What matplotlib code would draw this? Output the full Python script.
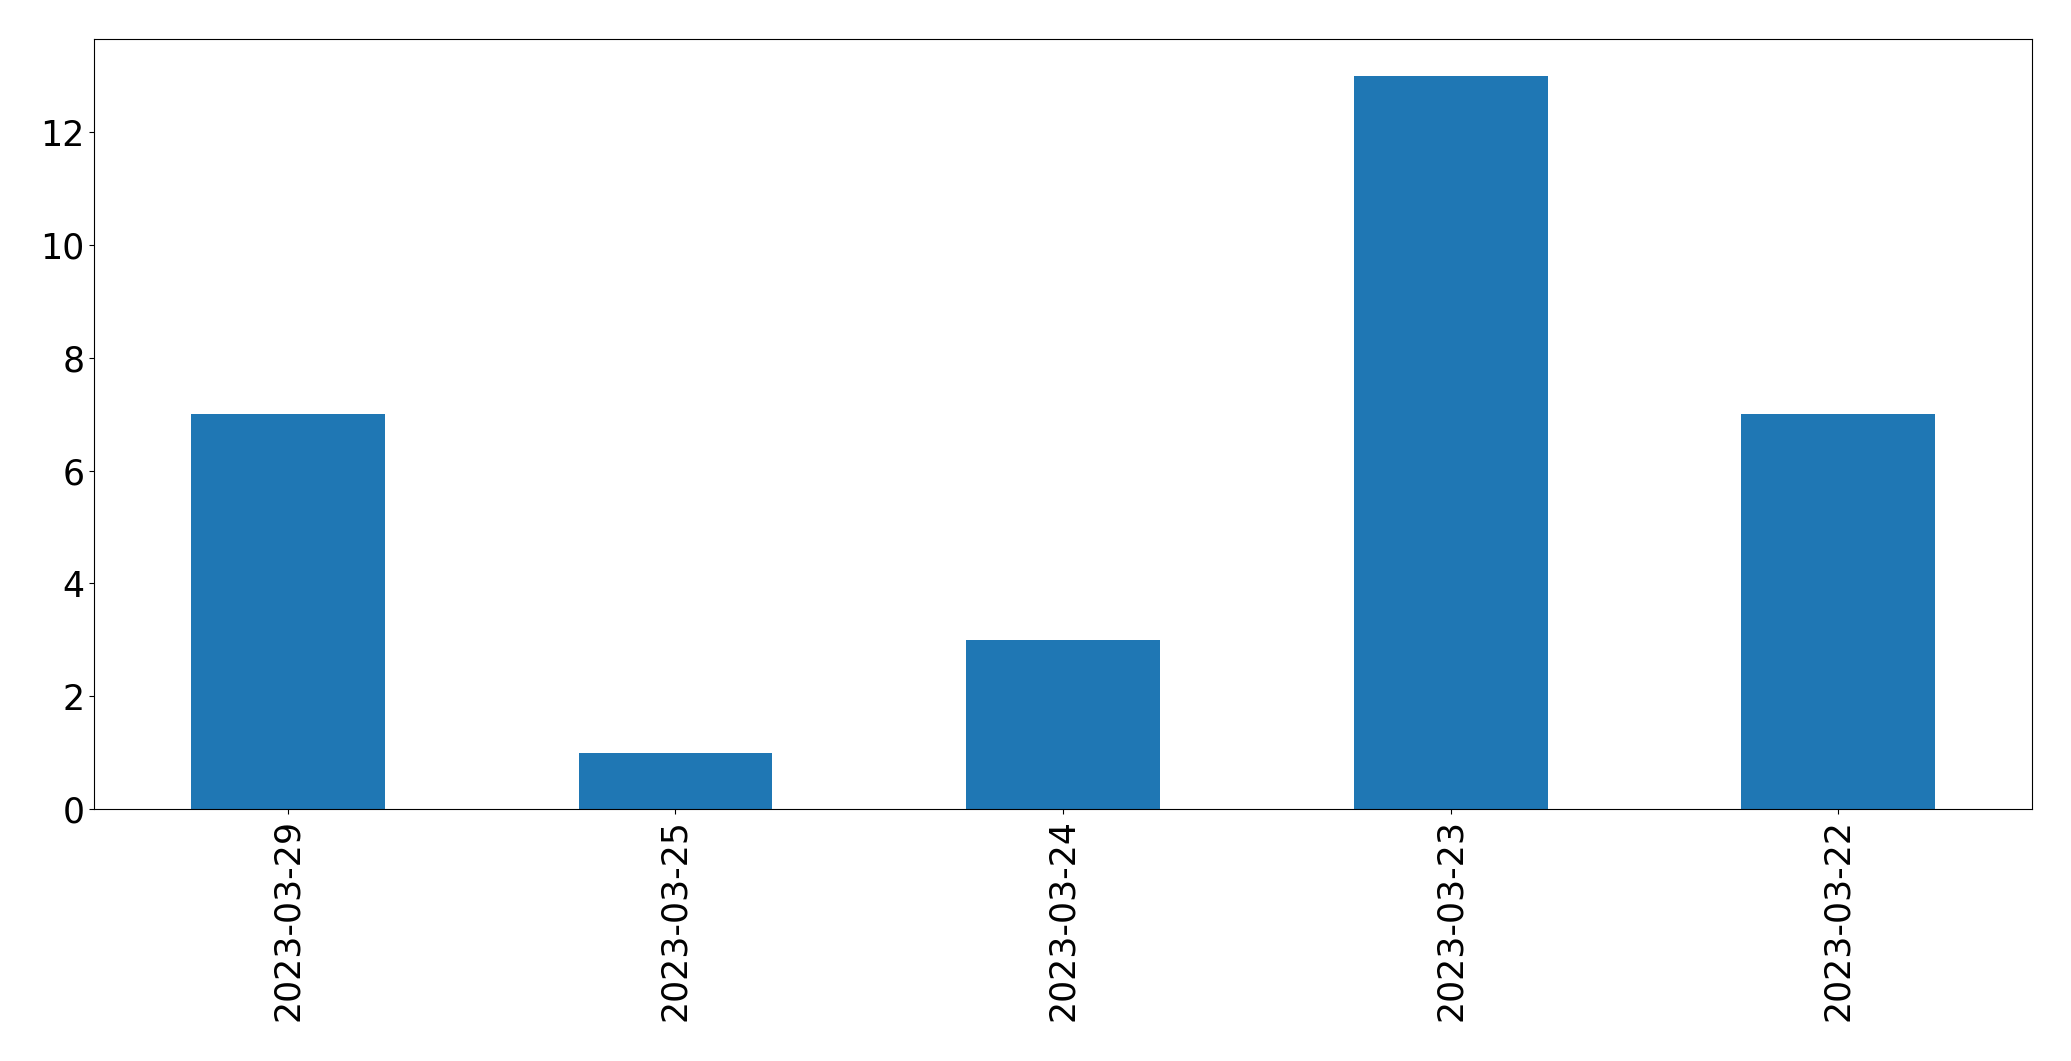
import matplotlib
matplotlib.use("Agg")
import matplotlib.pyplot as plt

dates = ["2023-03-29", "2023-03-25", "2023-03-24", "2023-03-23", "2023-03-22"]
counts = [7, 1, 3, 13, 7]

fig = plt.figure(figsize=(20.71, 10.61), dpi=100)
ax = fig.add_axes([94/2071, 1-809/1061, (2032-94)/2071, (809-39.3)/1061])
x = list(range(len(dates)))
ax.bar(x, counts, width=0.5, color="#1f77b4")
ax.set_xlim(-0.5, len(dates) - 0.5)
ax.set_ylim(0, max(counts) * 1.05)
ax.set_xticks(x)
ax.set_xticklabels(dates, rotation=90)
ax.tick_params(labelsize=25)
fig.savefig("out.png", dpi=100)
